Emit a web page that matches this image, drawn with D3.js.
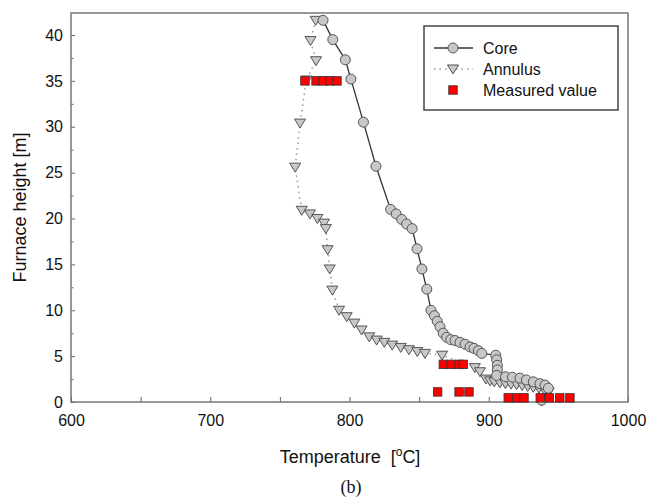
<!DOCTYPE html>
<html>
<head>
<meta charset="utf-8">
<script src="https://cdn.jsdelivr.net/npm/d3@7"></script>
<style>
  body { margin: 0; background: #fff; }
</style>
</head>
<body>
<div id="chart"></div>
<script>
// Core temperature profile [T degC, height m]
const coreData = [
    [781, 41.6], [788, 39.5], [797, 37.3], [801, 35.2], [810, 30.5], [819, 25.7],
    [829.5, 21.0], [833.5, 20.5], [837.5, 19.9], [841, 19.4], [845, 18.9],
    [848.5, 16.7], [852, 14.5], [855.5, 12.3], [858.5, 10.0], [861, 9.4],
    [863, 8.8], [865, 8.2], [867.3, 7.5], [869.8, 7.05], [872.7, 6.8],
    [875.8, 6.7], [879.4, 6.5], [883, 6.3], [886.6, 6.0], [889.4, 5.85],
    [892.5, 5.6], [895, 5.3], [905, 5.1], [905.7, 4.6], [906.2, 4.0],
    [906.2, 3.5], [905.7, 2.9], [912, 2.75], [917, 2.7], [922.4, 2.6],
    [927, 2.4], [932, 2.2], [936.8, 2.0], [940.4, 1.85], [942.8, 1.5], [938, 0.2]
];
// Annulus temperature profile
const annulusData = [
    [775.7, 41.6], [772, 39.4], [776, 37.2], [769, 35.1], [764.5, 30.4], [761, 25.6],
    [765.7, 20.9], [771.6, 20.5], [776.9, 20.0], [781.7, 19.5], [783, 18.9],
    [784.3, 16.6], [785.8, 14.5], [787.7, 12.2], [792.5, 10.0], [798, 9.3],
    [803.5, 8.6], [808.7, 7.85], [814.2, 7.1], [819.5, 6.75], [825, 6.5],
    [830.7, 6.2], [836.8, 5.95], [842.7, 5.7], [848.7, 5.5], [854.2, 5.3],
    [866.5, 5.1], [890, 3.75], [893.7, 3.3], [898, 2.5], [901, 2.3], [904, 2.2],
    [908, 2.1], [912, 2.0], [916, 1.95], [920, 1.9], [924, 1.8], [928, 1.7],
    [932, 1.6], [936, 1.5], [940, 1.3], [943, 1.1], [938, 0.1]
];
// Measured values
const measuredData = [
    [768, 35], [776, 35], [781, 35], [786, 35], [791, 35],
    [867.4, 4.1], [873, 4.1], [878.7, 4.1], [881.7, 4.1],
    [863.3, 1.1], [878.7, 1.1], [885.8, 1.1],
    [914, 0.45], [920, 0.45], [925.3, 0.45],
    [937, 0.45], [943.5, 0.45], [951, 0.45], [958.3, 0.45]
];
const xTicks = d3.range(600, 1001, 50);
const yTicks = d3.range(0, 42.5, 2.5);
const legendLabels = ["Core", "Annulus", "Measured value"];

const sans = "Arial, 'Liberation Sans', sans-serif";
const totalWidth = 647, totalHeight = 497;
const mLeft = 71, mRight = 19, mTop = 13, mBottom = 95;
const width = totalWidth - mLeft - mRight;
const height = totalHeight - mTop - mBottom;

const xScale = d3.scaleLinear().domain([600, 1000]).range([0, width]);
const yScale = d3.scaleLinear().domain([0, 42.4]).range([height, 0]);

const svg = d3.select("#chart").append("svg")
        .attr("width", totalWidth)
        .attr("height", totalHeight)
        .attr("font-family", sans);

const g = svg.append("g")
        .attr("transform", "translate(" + mLeft + "," + mTop + ")");

// x axis with inward ticks
const xAxis = d3.axisBottom(xScale)
        .tickValues(xTicks)
        .tickSizeInner(-5)
        .tickSizeOuter(0)
        .tickPadding(12.5)
        .tickFormat(d => d % 100 === 0 ? d : "");
const axisX = g.append("g")
        .attr("transform", "translate(0," + height + ")")
        .call(xAxis)
        .attr("font-family", sans);
axisX.select(".domain").remove();
axisX.selectAll("text").attr("font-size", 16).attr("fill", "#111");
axisX.selectAll("line").attr("stroke", "#666");

const yAxis = d3.axisLeft(yScale)
        .tickValues(yTicks)
        .tickSizeInner(-4)
        .tickSizeOuter(0)
        .tickPadding(8)
        .tickFormat(d => d % 5 === 0 ? d : "");
const axisY = g.append("g").call(yAxis).attr("font-family", sans);
axisY.select(".domain").remove();
axisY.selectAll("text").attr("font-size", 16).attr("fill", "#111");
axisY.selectAll("line").attr("stroke", "#666")
        .attr("x2", d => d % 5 === 0 ? 4 : 2.5);

// frame
g.append("rect")
        .attr("x", 0).attr("y", 0)
        .attr("width", width).attr("height", height)
        .attr("fill", "none")
        .attr("stroke", "#777")
        .attr("stroke-width", 1.5);

const line = d3.line()
        .x(d => xScale(d[0]))
        .y(d => yScale(d[1]));

const triPath = "M-5.5,-4L5.5,-4L0,5Z";

// annulus
g.append("path")
        .datum(annulusData)
        .attr("d", line)
        .attr("fill", "none")
        .attr("stroke", "#999")
        .attr("stroke-width", 1.5)
        .attr("stroke-dasharray", "1.5,4");
g.append("g").selectAll("path")
        .data(annulusData)
        .enter().append("path")
        .attr("d", triPath)
        .attr("transform", d => "translate(" + xScale(d[0]) + "," + yScale(d[1]) + ")")
        .attr("fill", "#c8c8c8")
        .attr("stroke", "#555")
        .attr("stroke-width", 1);

// core
g.append("path")
        .datum(coreData)
        .attr("d", line)
        .attr("fill", "none")
        .attr("stroke", "#333")
        .attr("stroke-width", 1.3);
g.append("g").selectAll("circle")
        .data(coreData)
        .enter().append("circle")
        .attr("cx", d => xScale(d[0]))
        .attr("cy", d => yScale(d[1]))
        .attr("r", 5)
        .attr("fill", "#c8c8c8")
        .attr("stroke", "#555")
        .attr("stroke-width", 1);

// measured
const sq = 8.5;
g.append("g").selectAll("rect")
        .data(measuredData)
        .enter().append("rect")
        .attr("x", d => xScale(d[0]) - sq / 2)
        .attr("y", d => yScale(d[1]) - sq / 2)
        .attr("width", sq)
        .attr("height", sq)
        .attr("fill", "#ff0000")
        .attr("stroke", "#333")
        .attr("stroke-width", 0.8);

// legend
const legend = svg.append("g");
legend.append("rect")
        .attr("x", 424).attr("y", 26)
        .attr("width", 194).attr("height", 84)
        .attr("fill", "#fff")
        .attr("stroke", "#444")
        .attr("stroke-width", 1.5);
const legY = [48, 69, 90];
legend.append("line")
        .attr("x1", 434).attr("x2", 473).attr("y1", legY[0]).attr("y2", legY[0])
        .attr("stroke", "#333").attr("stroke-width", 1.3);
legend.append("circle")
        .attr("cx", 453).attr("cy", legY[0]).attr("r", 5)
        .attr("fill", "#c8c8c8").attr("stroke", "#555");
legend.append("line")
        .attr("x1", 434).attr("x2", 473).attr("y1", legY[1]).attr("y2", legY[1])
        .attr("stroke", "#999").attr("stroke-width", 1.5).attr("stroke-dasharray", "1.5,4");
legend.append("path")
        .attr("d", triPath)
        .attr("transform", "translate(453," + legY[1] + ")")
        .attr("fill", "#c8c8c8").attr("stroke", "#555");
legend.append("rect")
        .attr("x", 453 - sq / 2).attr("y", legY[2] - sq / 2)
        .attr("width", sq).attr("height", sq)
        .attr("fill", "#ff0000").attr("stroke", "#333").attr("stroke-width", 0.8);
legend.selectAll("text.lab")
        .data(legendLabels)
        .enter().append("text")
        .attr("class", "lab")
        .attr("x", 483)
        .attr("y", (d, i) => legY[i])
        .attr("dy", "0.35em")
        .attr("font-size", 16)
        .attr("fill", "#111")
        .text(d => d);

// axis titles
const xTitle = svg.append("text")
        .attr("x", 350).attr("y", 463)
        .attr("text-anchor", "middle")
        .attr("font-size", 18)
        .attr("fill", "#111")
        .style("white-space", "pre");
xTitle.append("tspan").text("Temperature  [");
xTitle.append("tspan").attr("dy", -7).attr("font-size", 12).text("o");
xTitle.append("tspan").attr("dy", 7).text("C]");

svg.append("text")
        .attr("transform", "translate(26," + (mTop + height / 2) + ") rotate(-90)")
        .attr("text-anchor", "middle")
        .attr("font-size", 18)
        .attr("fill", "#111")
        .text("Furnace height [m]");

svg.append("text")
        .attr("x", 351).attr("y", 493)
        .attr("text-anchor", "middle")
        .attr("font-family", "'Liberation Serif', 'Times New Roman', serif")
        .attr("font-size", 18)
        .attr("fill", "#111")
        .text("(b)");
</script>
</body>
</html>
